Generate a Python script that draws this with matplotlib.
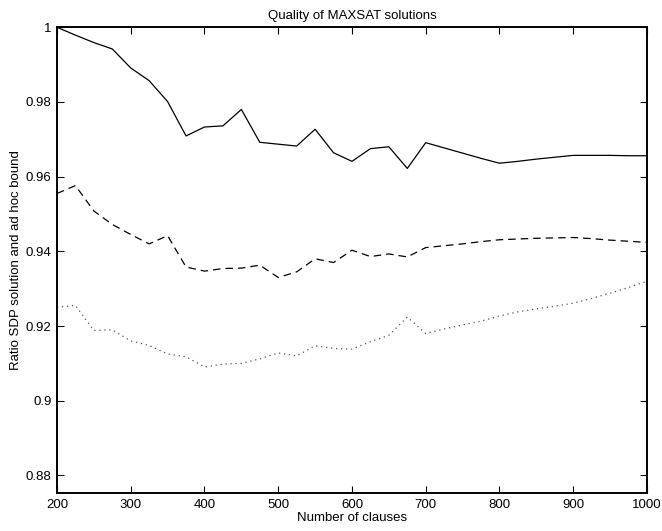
import numpy as np
import matplotlib.pyplot as plt
from matplotlib.ticker import FuncFormatter

plt.rcParams['font.family'] = ['Liberation Sans', 'DejaVu Sans']

# number of clauses
clauses = np.arange(200, 1001, 25)

# ratio of SDP solution and ad hoc bound, three series
solid = [1.0, 0.9979, 0.9959, 0.9942, 0.9891, 0.9857, 0.9801, 0.9709, 0.9733,
         0.9736, 0.9780, 0.9692, 0.9687, 0.9682, 0.9727, 0.9664, 0.9641, 0.9675,
         0.9680, 0.9622, 0.9691, 0.9677, 0.9663, 0.9649, 0.9636, 0.9641, 0.9647,
         0.9652, 0.9657, 0.9657, 0.9657, 0.9656, 0.9656]
dashed = [0.9555, 0.9576, 0.9508, 0.9472, 0.9445, 0.9420, 0.9442, 0.9358, 0.9347,
          0.9354, 0.9355, 0.9363, 0.9330, 0.9345, 0.9380, 0.9370, 0.9403, 0.9386,
          0.9393, 0.9385, 0.9410, 0.9415, 0.9420, 0.9426, 0.9431, 0.9433, 0.9435,
          0.9436, 0.9437, 0.9434, 0.9430, 0.9427, 0.9424]
dotted = [0.9250, 0.9255, 0.9188, 0.9190, 0.9160, 0.9148, 0.9125, 0.9118, 0.9090,
          0.9098, 0.9100, 0.9112, 0.9128, 0.9120, 0.9147, 0.9140, 0.9138, 0.9158,
          0.9175, 0.9224, 0.9180, 0.9192, 0.9203, 0.9213, 0.9227, 0.9238, 0.9246,
          0.9253, 0.9261, 0.9274, 0.9288, 0.9303, 0.9320]

fig = plt.figure(figsize=(6.62, 5.31), dpi=100)
ax = fig.add_axes([0.0861, 0.071, 0.8912, 0.8776])

ax.plot(clauses, solid, '-', color='black', lw=0.9)
ax.plot(clauses, dashed, '--', color='black', lw=0.9, dashes=(6, 4))
ax.plot(clauses, dotted, ':', color='#555555', lw=0.9, dashes=(1, 3))

ax.set_xlim(200, 1000)
ax.set_ylim(0.8752, 1.0)
ax.set_xticks(np.arange(200, 1001, 100))
ax.set_yticks(np.arange(0.88, 1.001, 0.02))
ax.yaxis.set_major_formatter(FuncFormatter(lambda v, p: '%g' % round(v, 2)))

ax.tick_params(direction='in', top=True, right=True, length=5, width=0.8,
               labelsize=9.5, pad=4)
for s in ax.spines.values():
    s.set_linewidth(1.4)

ax.set_title('Quality of MAXSAT solutions', fontsize=9.5, pad=6)
ax.set_xlabel('Number of clauses', fontsize=9.5, labelpad=1)
ax.set_ylabel('Ratio SDP solution and ad hoc bound', fontsize=9.5, labelpad=3)

fig.savefig('out.png', dpi=100)
